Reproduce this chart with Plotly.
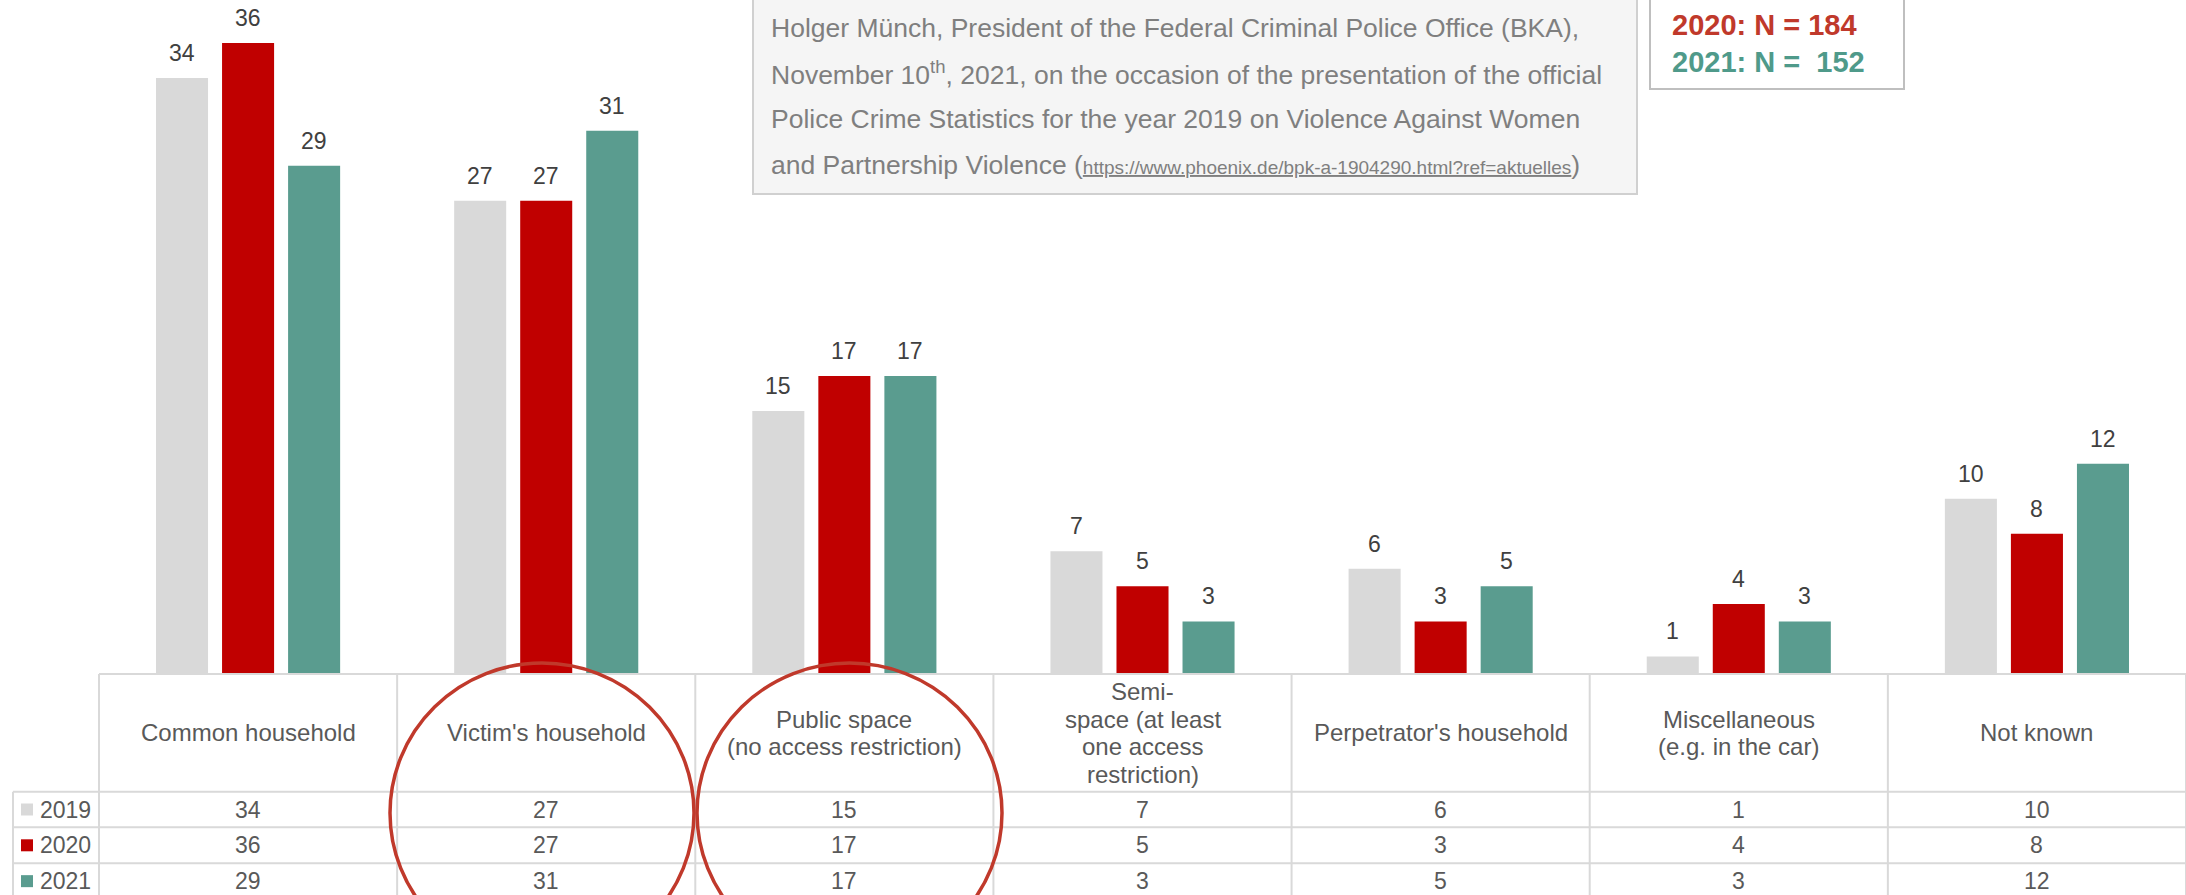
import plotly.graph_objects as go

# --- data -------------------------------------------------------------
categories = [
    "Common household",
    "Victim's household",
    "Public space<br>(no access restriction)",
    "Semi-<br>space (at least<br>one access<br>restriction)",
    "Perpetrator's household",
    "Miscellaneous<br>(e.g. in the car)",
    "Not known",
]
years = ["2019", "2020", "2021"]
v2019 = [34, 27, 15, 7, 6, 1, 10]
v2020 = [36, 27, 17, 5, 3, 4, 8]
v2021 = [29, 31, 17, 3, 5, 3, 12]
series = [v2019, v2020, v2021]
colors = ["#d9d9d9", "#c00000", "#5a9c8f"]

quote_lines = [
    "Holger Münch, President of the Federal Criminal Police Office (BKA),",
    "November 10<sup>th</sup>, 2021, on the occasion of the presentation of the official",
    "Police Crime Statistics for the year 2019 on Violence Against Women",
    "and Partnership Violence (<span style='font-size:19px'><u>"
    "https://www.phoenix.de/bpk-a-1904290.html?ref=aktuelles</u></span>)",
]
n_lines = [("2020: N = 184", "#c0392b"), ("2021: N =\u00a0 152", "#4f9a8a")]

# --- geometry (pixels) --------------------------------------------------
W, H = 2186, 895
ML, MB = 99, 221
PW, PH = W - ML, H - MB
FONT = "Liberation Sans, Arial, sans-serif"
GRID = "#d9d9d9"
TXT = "#595959"
BARGAP = 0.3355
ELLIPSES = [(390, 694), (697, 1002)]  # x extent of the red circles


def px(x):
    return (x - ML) / PW


def py(y):
    return (PH - y) / PH


fig = go.Figure()
for name, vals, col in zip(years, series, colors):
    fig.add_trace(go.Bar(
        name=name,
        x=categories,
        y=vals,
        marker_color=col,
        marker_line_width=0,
        showlegend=False,
    ))

shapes = []
annotations = []

# value labels above bars
slot = (1 - BARGAP) / len(years)
for i, vals in enumerate(series):
    for j, v in enumerate(vals):
        annotations.append(dict(
            x=j + (i - 1) * slot, y=v, xref="x", yref="y",
            text=str(v), showarrow=False, yanchor="bottom", yshift=10,
            font=dict(size=23, color="#404040", family=FONT),
        ))

# table grid
header_top, row_lines = 674, [791.7, 827.3, 863.3, 899]
ncat = len(categories)
shapes.append(dict(type="line", xref="paper", yref="paper",
                   x0=0, x1=1, y0=py(header_top), y1=py(header_top),
                   line=dict(color=GRID, width=2)))
for yl in row_lines:
    shapes.append(dict(type="line", xref="paper", yref="paper",
                       x0=px(13), x1=1, y0=py(yl), y1=py(yl),
                       line=dict(color=GRID, width=2)))
for k in range(ncat + 1):
    shapes.append(dict(type="line", xref="paper", yref="paper",
                       x0=k / ncat, x1=k / ncat, y0=py(header_top), y1=py(H + 5),
                       line=dict(color=GRID, width=2)))
shapes.append(dict(type="line", xref="paper", yref="paper",
                   x0=px(13), x1=px(13), y0=py(row_lines[0]), y1=py(H + 5),
                   line=dict(color=GRID, width=2)))

# header labels
hdr_mid = (header_top + row_lines[0]) / 2
for j, label in enumerate(categories):
    parts = label.split("<br>")
    for k, part in enumerate(parts):
        yc = hdr_mid + (k - (len(parts) - 1) / 2) * 27.5
        annotations.append(dict(
            x=j, y=py(yc), xref="x", yref="paper", text=part,
            showarrow=False, yanchor="middle",
            font=dict(size=24, color=TXT, family=FONT),
        ))

# table rows with legend keys
for r, (name, vals, col) in enumerate(zip(years, series, colors)):
    yc = (row_lines[r] + row_lines[r + 1]) / 2
    shapes.append(dict(type="rect", xref="paper", yref="paper",
                       x0=px(21), x1=px(33), y0=py(yc + 6), y1=py(yc - 6),
                       fillcolor=col, line_width=0))
    annotations.append(dict(
        x=px(38), y=py(yc), xref="paper", yref="paper", text=name,
        showarrow=False, xanchor="left", yanchor="middle",
        font=dict(size=23, color=TXT, family=FONT),
    ))
    for j, v in enumerate(vals):
        annotations.append(dict(
            x=j, y=py(yc), xref="x", yref="paper", text=str(v),
            showarrow=False, yanchor="middle",
            font=dict(size=23, color=TXT, family=FONT),
        ))

# red ellipses around Victim's household / Public space
for x0, x1 in ELLIPSES:
    shapes.append(dict(type="circle", xref="paper", yref="paper",
                       x0=px(x0), x1=px(x1), y0=py(963), y1=py(663),
                       line=dict(color="#c0392b", width=3.5), layer="above"))

# quote box
shapes.append(dict(type="rect", xref="paper", yref="paper",
                   x0=px(753), x1=px(1637), y0=py(194), y1=py(-10),
                   fillcolor="#f5f5f5", line=dict(color="#d0d0d0", width=2),
                   layer="below"))
for k, line in enumerate(quote_lines):
    annotations.append(dict(
        x=px(769), y=py(28 + k * 45.5), xref="paper", yref="paper", text=line,
        showarrow=False, xanchor="left", yanchor="middle",
        font=dict(size=26.5, color="#7f7f7f", family=FONT),
    ))

# sample size box
shapes.append(dict(type="rect", xref="paper", yref="paper",
                   x0=px(1650), x1=px(1904), y0=py(89), y1=py(-10),
                   fillcolor="white", line=dict(color="#bfbfbf", width=2)))
for k, (txt, col) in enumerate(n_lines):
    annotations.append(dict(
        x=px(1670), y=py(25 + k * 37), xref="paper", yref="paper",
        text="<b>" + txt + "</b>", showarrow=False, xanchor="left", yanchor="middle",
        font=dict(size=29, color=col, family=FONT),
    ))

fig.update_layout(
    width=W,
    height=H,
    margin=dict(l=ML, r=0, t=0, b=MB),
    barmode="group",
    bargap=BARGAP,
    bargroupgap=0.212,
    paper_bgcolor="white",
    plot_bgcolor="white",
    xaxis=dict(visible=False, range=[-0.5, ncat - 0.5]),
    yaxis=dict(visible=False, range=[0, 36 * PH / 631]),
    shapes=shapes,
    annotations=annotations,
    font=dict(family=FONT),
)

# drop the default page margin so the figure sits at the window's top-left
fig.write_html(
    "out.html",
    config={"displayModeBar": False},
    post_script="document.body.style.margin='0';document.body.style.overflow='hidden';",
)
